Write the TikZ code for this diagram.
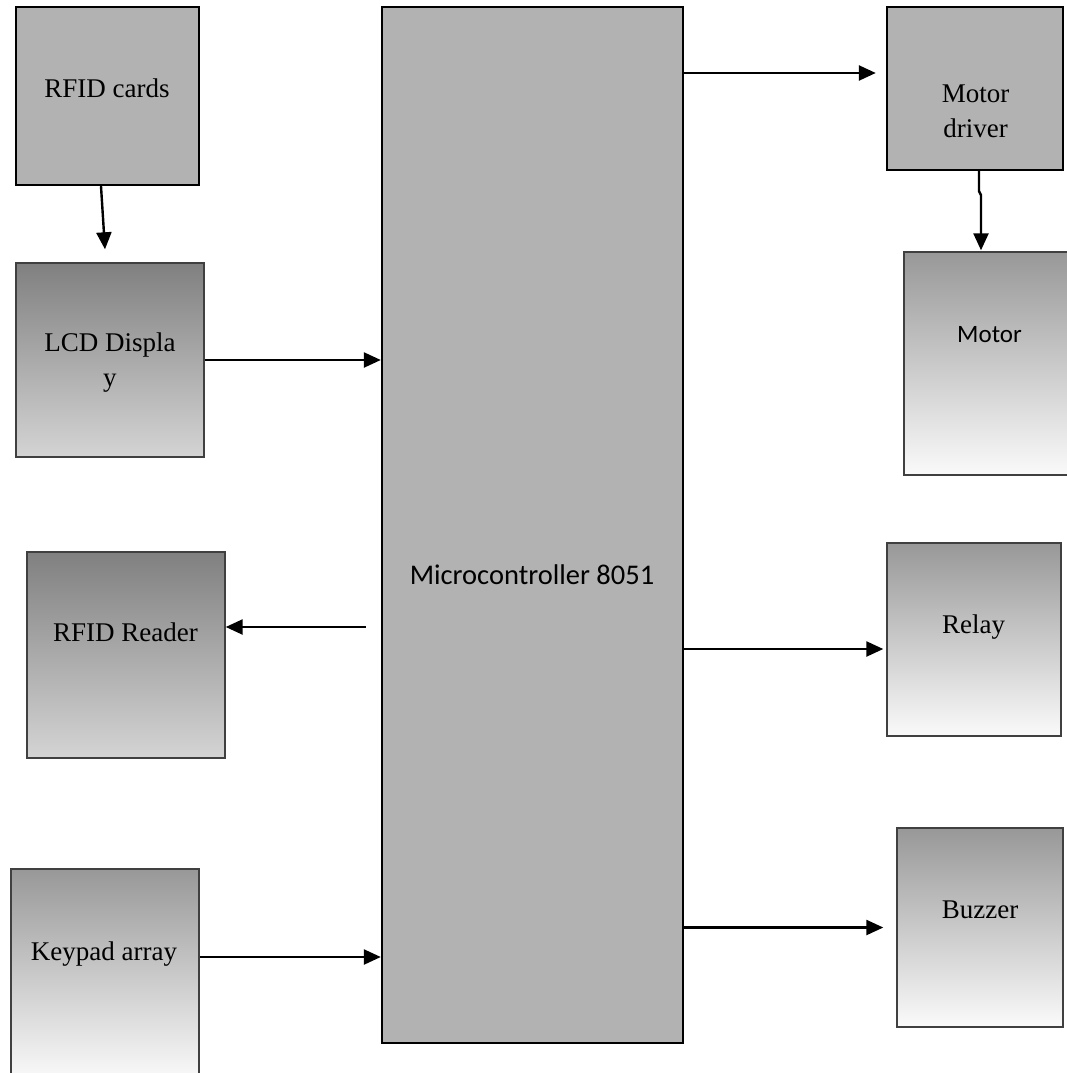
\documentclass[tikz,border=0pt]{standalone}
\usepackage{fontspec}
\setmainfont{Liberation Serif}
\newfontfamily\calibfont{Carlito}
\usepackage{tikz}
\usetikzlibrary{arrows.meta, positioning, calc}
\definecolor{blockGray}{RGB}{178,178,178}
\definecolor{edgeGray}{RGB}{64,64,64}
\definecolor{shadeDark}{RGB}{128,128,128}
\definecolor{shadeMid}{RGB}{152,152,152}
\definecolor{shadeLow}{RGB}{212,212,212}
\definecolor{shadeWhite}{RGB}{250,250,250}

\tikzset{
  solidblock/.style={draw=black, line width=2.4pt, fill=blockGray, inner sep=0pt},
  shadeblock/.style={draw=edgeGray, line width=1.4pt, inner sep=0pt},
  darkshade/.style={shadeblock, top color=shadeDark, bottom color=shadeLow},
  lightshade/.style={shadeblock, top color=shadeMid, bottom color=shadeWhite},
  serifTxt/.style={font=\fontsize{27}{35}\selectfont, align=center, inner sep=0pt},
  sansTxt/.style={font=\calibfont\fontsize{25}{30}\selectfont, align=center, inner sep=0pt},
  sig/.style={line width=2.4pt, -{Triangle[length=17pt,width=15pt]}}
}

\begin{document}
\begin{tikzpicture}[x=1pt,y=-1pt]
  \useasboundingbox (0,0) rectangle (1067,1073);
  % central controller
  \node[solidblock, minimum width=301pt, minimum height=1036pt] (mcu) at (532.5,525){};
  \node[sansTxt, font=\calibfont\fontsize{28.5}{34}\selectfont, anchor=base] (mcuT) at (532,584){Microcontroller 8051};
  % left column
  \node[solidblock, minimum width=183pt, minimum height=178pt] (cards) at (107.5,96){};
  \node[serifTxt, anchor=base] (cardsT) at (107,97){RFID cards};
  \node[darkshade, minimum width=188pt, minimum height=194pt] (lcd) at (110,360){};
  \node[serifTxt] (lcdT) at (110,363){LCD Displa\\y};
  \node[darkshade, minimum width=198pt, minimum height=206pt] (reader) at (126,655){};
  \node[serifTxt, anchor=base] (readerT) at (125.5,641){RFID Reader};
  \node[lightshade, minimum width=188pt, minimum height=211pt] (keypad) at (105,974.5){};
  \node[serifTxt, anchor=base] (keypadT) at (104,960){Keypad array};
  % right column
  \node[solidblock, minimum width=176pt, minimum height=163pt] (mdrv) at (975,88.5){};
  \node[serifTxt] (mdrvT) at (975.5,111){Motor\\driver};
  \node[lightshade, minimum width=168pt, minimum height=223pt] (motor) at (988,363.5){};
  \node[sansTxt, anchor=base] (motorT) at (989.5,342){Motor};
  \node[lightshade, minimum width=174pt, minimum height=193pt] (relay) at (974,639.5){};
  \node[serifTxt, anchor=base] (relayT) at (973.5,633){Relay};
  \node[lightshade, minimum width=166pt, minimum height=199pt] (buzzer) at (980,927.5){};
  \node[serifTxt, anchor=base] (buzzerT) at (980,918){Buzzer};
  % connector ends
  \coordinate (readerIn) at ([yshift=28pt]reader.east);
  \coordinate (keypadOut) at ([yshift=17.5pt]keypad.east);
  \coordinate (mdrvIn) at ([yshift=15.5pt]mdrv.west);
  \coordinate (relayIn) at ([yshift=-9.5pt]relay.west);
  % connectors
  \draw[sig] ([xshift=-6.5pt]cards.south) -- ([xshift=-5pt,yshift=13pt]lcd.north);
  \draw[sig] (lcd.east) -- (lcd.east -| mcu.west);
  \draw[sig] ([xshift=-15pt]mcu.west |- readerIn) -- (readerIn);
  \draw[sig] (keypadOut) -- (keypadOut -| mcu.west);
  \draw[sig, shorten >=10pt] (mcu.east |- mdrvIn) -- (mdrvIn);
  \draw[sig] ([xshift=4pt]mdrv.south) -- ++(0,20) -- ++(2,4) -- ([xshift=-7pt,yshift=1pt]motor.north);
  \draw[sig, shorten >=3pt] (mcu.east |- relayIn) -- (relayIn);
  \draw[sig, shorten >=13pt] (mcu.east |- buzzer.west) -- (buzzer.west);
\end{tikzpicture}
\end{document}
